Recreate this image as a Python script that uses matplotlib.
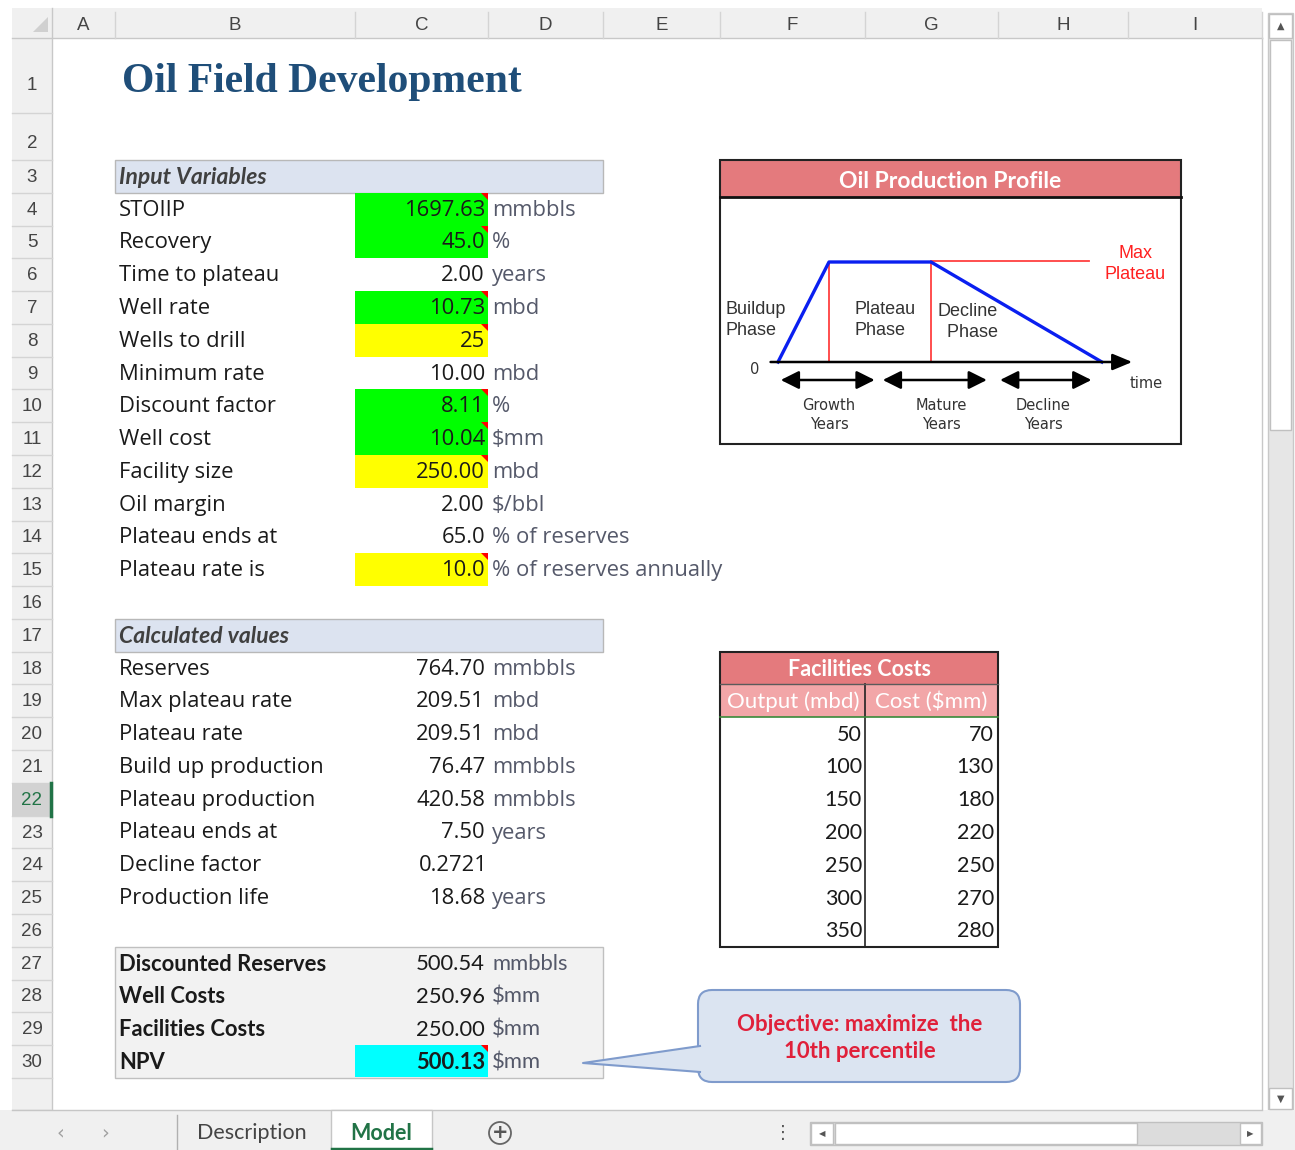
import matplotlib
matplotlib.use("Agg")
import matplotlib.pyplot as plt
from matplotlib.patches import Rectangle, Polygon, FancyBboxPatch

# ---- sheet content ----
title = "Oil Field Development"

input_labels = ["STOIIP", "Recovery", "Time to plateau", "Well rate", "Wells to drill",
                "Minimum rate", "Discount factor", "Well cost", "Facility size",
                "Oil margin", "Plateau ends at", "Plateau rate is"]
input_values = ["1697.63", "45.0", "2.00", "10.73", "25", "10.00", "8.11", "10.04",
                "250.00", "2.00", "65.0", "10.0"]
input_units = ["mmbbls", "%", "years", "mbd", "", "mbd", "%", "$mm", "mbd", "$/bbl",
               "% of reserves", "% of reserves annually"]
input_fill = ["#00ff00", "#00ff00", None, "#00ff00", "#ffff00", None, "#00ff00",
              "#00ff00", "#ffff00", None, None, "#ffff00"]

calc_labels = ["Reserves", "Max plateau rate", "Plateau rate", "Build up production",
               "Plateau production", "Plateau ends at", "Decline factor", "Production life"]
calc_values = ["764.70", "209.51", "209.51", "76.47", "420.58", "7.50", "0.2721", "18.68"]
calc_units = ["mmbbls", "mbd", "mbd", "mmbbls", "mmbbls", "years", "", "years"]

summary_labels = ["Discounted Reserves", "Well Costs", "Facilities Costs", "NPV"]
summary_values = ["500.54", "250.96", "250.00", "500.13"]
summary_units = ["mmbbls", "$mm", "$mm", "$mm"]

fac_output = [50, 100, 150, 200, 250, 300, 350]
fac_cost = [70, 130, 180, 220, 250, 270, 280]

# production profile sketch (time units, rate relative to plateau)
profile_t = [0, 1, 3, 6.35]
profile_q = [0, 1, 1, 0]

col_names = ["A", "B", "C", "D", "E", "F", "G", "H", "I"]
col_edges = [52, 115, 355, 488, 603, 720, 865, 998, 1128, 1262]

W, H = 1295, 1150
fig = plt.figure(figsize=(W / 100, H / 100), dpi=100)
ax = fig.add_axes([0, 0, 1, 1])
ax.set_xlim(0, W)
ax.set_ylim(H, 0)
ax.axis("off")

CELL = "Open Sans"
CAL = "Lato"
GRID = "#d4d4d4"
HDR = "#f0f0f0"
FS = 15.8   # body cells
FSC = 15.8  # calibri-like cells
UNIT = "#55596a"


def row_top(n):
    if n == 1:
        return 38
    if n == 2:
        return 113
    return 160 + (n - 3) * 32.78


def row_mid(n):
    if n == 1:
        return 80
    return row_top(n) + 16.4


def rect(x0, y0, x1, y1, fc="none", ec="none", lw=1, z=1):
    ax.add_patch(Rectangle((x0, y0), x1 - x0, y1 - y0, facecolor=fc, edgecolor=ec,
                           linewidth=lw, zorder=z))


def corner_mark(x1, y0):
    ax.add_patch(Polygon([(x1 - 7, y0), (x1, y0), (x1, y0 + 7)], closed=True,
                         facecolor="red", edgecolor="none", zorder=5))


# ---- headers ----
rect(12, 8, 1262, 38, fc=HDR)
rect(12, 38, 52, 1110, fc=HDR)
ax.plot([12, 1262], [38, 38], color="#c8c8c8", lw=1, zorder=2)
ax.plot([52, 52], [8, 1110], color="#c8c8c8", lw=1, zorder=2)
ax.plot([1262, 1262], [38, 1110], color="#c8c8c8", lw=1, zorder=2)
ax.add_patch(Polygon([(33, 32), (48, 32), (48, 17)], closed=True, facecolor="#d0d0d0",
                     edgecolor="none", zorder=3))
for i, name in enumerate(col_names):
    ax.plot([col_edges[i + 1]] * 2, [12, 38], color=GRID, lw=1, zorder=2)
    ax.text((col_edges[i] + col_edges[i + 1]) / 2, 25, name, ha="center", va="center",
            fontsize=13.5, color="#444444", family="Liberation Sans")
for n in range(1, 32):
    ax.plot([12, 52], [row_top(n + 1)] * 2 if n < 31 else [1110, 1110], color=GRID,
            lw=1, zorder=2)
    if n == 22:
        rect(12, row_top(22), 52, row_top(23), fc="#d2d2d2", z=2)
        ax.plot([51, 51], [row_top(22), row_top(23)], color="#217346", lw=2.5, zorder=3)
    if n <= 30:
        yy = {1: 85, 2: 144}.get(n, row_mid(n) + 1)
        ax.text(32, yy, str(n), ha="center", va="center",
                fontsize=13.5, color="#217346" if n == 22 else "#444444",
                family="Liberation Sans", zorder=4)

# ---- title ----
ax.text(122, 82, title, ha="left", va="center", fontsize=30, fontweight="bold",
        color="#1f4e79", family="Liberation Serif")

# ---- section headers ----
for n, txt in [(3, "Input Variables"), (17, "Calculated values")]:
    rect(115, row_top(n), 603, row_top(n + 1), fc="#dce3f0", ec="#b8b8b8", lw=1)
    ax.text(119, row_mid(n) + 1, txt, ha="left", va="center", fontsize=16.5,
            fontweight="bold", fontstyle="italic", color="#404040", family=CAL)

# ---- input table ----
for i, lab in enumerate(input_labels):
    n = 4 + i
    y = row_mid(n) + 1
    if input_fill[i]:
        rect(355, row_top(n), 488, row_top(n + 1), fc=input_fill[i])
        corner_mark(488, row_top(n))
    ax.text(119, y, lab, ha="left", va="center", fontsize=FS, color="#1a1a1a", family=CELL)
    ax.text(485, y, input_values[i], ha="right", va="center", fontsize=FS,
            color="#1a1a1a", family=CELL)
    ax.text(492, y, input_units[i], ha="left", va="center", fontsize=FS,
            color=UNIT, family=CELL)

# ---- calculated values ----
for i, lab in enumerate(calc_labels):
    n = 18 + i
    y = row_mid(n) + 1
    ax.text(119, y, lab, ha="left", va="center", fontsize=FS, color="#1a1a1a", family=CELL)
    if calc_values[i].startswith("0."):
        ax.text(419, y, calc_values[i], ha="left", va="center", fontsize=FS,
                color="#1a1a1a", family=CELL)
    else:
        ax.text(485, y, calc_values[i], ha="right", va="center", fontsize=FS,
                color="#1a1a1a", family=CELL)
    ax.text(492, y, calc_units[i], ha="left", va="center", fontsize=FS,
            color=UNIT, family=CELL)

# ---- summary block ----
rect(115, row_top(27), 603, row_top(31), fc="#f2f2f2", ec="#c0c0c0", lw=1)
for i, lab in enumerate(summary_labels):
    n = 27 + i
    y = row_mid(n) + 1
    if lab == "NPV":
        rect(355, row_top(n), 488, row_top(n + 1) - 1, fc="#00ffff", z=2)
        corner_mark(488, row_top(n))
    ax.text(119, y, lab, ha="left", va="center", fontsize=FSC, fontweight="bold",
            color="#1a1a1a", family=CAL, zorder=4)
    ax.text(485, y, summary_values[i], ha="right", va="center", fontsize=FSC,
            fontweight="bold" if lab == "NPV" else "normal", color="#1a1a1a",
            family=CAL, zorder=4)
    ax.text(492, y, summary_units[i], ha="left", va="center", fontsize=FSC,
            color=UNIT, family=CAL, zorder=4)

# ---- facilities table ----
ft, fb = row_top(18), row_top(27)
rect(720, ft, 998, row_top(19), fc="#e47a7d", z=2)
rect(720, row_top(19), 998, row_top(20), fc="#f2a6a8", z=2)
rect(720, ft, 998, fb, ec="#222222", lw=1.5, z=4)
ax.plot([865, 865], [row_top(19), fb], color="#222222", lw=1.2, zorder=4)
ax.plot([720, 998], [row_top(20), row_top(20)], color="#3a8a3a", lw=1.2, zorder=4)
ax.plot([720, 998], [row_top(19), row_top(19)], color="#5a5a5a", lw=1, zorder=4)
ax.text(859, row_mid(18) + 1, "Facilities Costs", ha="center", va="center", fontsize=15.5,
        fontweight="bold", color="white", family=CAL, zorder=5)
ax.text(793, row_mid(19) + 1, "Output (mbd)", ha="center", va="center", fontsize=16,
        color="white", family=CAL, zorder=5)
ax.text(931, row_mid(19) + 1, "Cost ($mm)", ha="center", va="center", fontsize=16,
        color="white", family=CAL, zorder=5)
for i in range(len(fac_output)):
    y = row_mid(20 + i) + 1
    ax.text(862, y, str(fac_output[i]), ha="right", va="center", fontsize=15.5,
            color="#1a1a1a", family=CAL, zorder=5)
    ax.text(994, y, str(fac_cost[i]), ha="right", va="center", fontsize=15.5,
            color="#1a1a1a", family=CAL, zorder=5)

# ---- oil production profile picture ----
rect(720, 160, 1181, 197, fc="#e47a7d", z=2)
rect(720, 160, 1181, 444, ec="#222222", lw=1.5, z=4)
ax.plot([720, 1181], [197, 197], color="#111111", lw=2, zorder=4)
ax.text(950, 181, "Oil Production Profile", ha="center", va="center", fontsize=16.5,
        fontweight="bold", color="white", family=CAL, zorder=5)

# inset axes: 51 px per time unit, 100 px per plateau unit, origin at (778, 362)
px0, py0, sx, sy = 778, 362, 51.0, 100.0
x_l, x_r = (722 - px0) / sx, (1179 - px0) / sx
y_t, y_b = (py0 - 199) / sy, (py0 - 442) / sy
dax = fig.add_axes([722 / W, 1 - 442 / H, (1179 - 722) / W, (442 - 199) / H])
dax.set_xlim(x_l, x_r)
dax.set_ylim(y_b, y_t)
dax.axis("off")
dax.plot(profile_t, profile_q, color="#0a1ff0", lw=2.4, zorder=3)
for t in profile_t[1:3]:
    dax.plot([t, t], [0, 1], color="#ff4040", lw=1.3, zorder=2)
dax.plot([profile_t[2], 6.1], [1.01, 1.01], color="#ff4040", lw=1.3, zorder=2)
dax.annotate("", xy=(7.0, 0), xytext=(-0.2, 0),
             arrowprops=dict(arrowstyle="-|>,head_length=1.2,head_width=0.5",
                             color="black", lw=1.8))
for a, b in [(0.0, 1.95), (2.0, 4.15), (4.3, 6.2)]:
    dax.annotate("", xy=(b, -0.18), xytext=(a, -0.18),
                 arrowprops=dict(arrowstyle="<|-|>,head_length=1.1,head_width=0.55",
                                 color="black", lw=1.8))
dfont = dict(family="Liberation Sans", color="#333333")
vfont = dict(family="DejaVu Sans", color="#333333")
dax.text(-0.45, -0.07, "0", ha="center", va="center", fontsize=10.5, **vfont)
dax.text(7.22, -0.21, "time", ha="center", va="center", fontsize=10.5, **vfont)
dax.text(-1.02, 0.42, "Buildup\nPhase", ha="left", va="center", fontsize=13,
         linespacing=1.25, **dfont)
dax.text(1.5, 0.42, "Plateau\nPhase", ha="left", va="center", fontsize=13,
         linespacing=1.25, **dfont)
dax.text(3.12, 0.4, "Decline\n  Phase", ha="left", va="center", fontsize=13,
         linespacing=1.25, **dfont)
dax.text(7.0, 0.98, "Max\nPlateau", ha="center", va="center", fontsize=13,
         linespacing=1.25, family="Liberation Sans", color="#ff2020")
for xc, lab in [(1.0, "Growth\nYears"), (3.2, "Mature\nYears"), (5.2, "Decline\nYears")]:
    dax.text(xc, -0.53, lab, ha="center", va="center", fontsize=10.5,
             linespacing=1.35, **vfont)

# ---- callout ----
ax.add_patch(FancyBboxPatch((701, 993), 318, 89, boxstyle="round,pad=0,rounding_size=14",
                            facecolor="#c8cfda", edgecolor="none", zorder=5))
ax.add_patch(FancyBboxPatch((698, 990), 322, 92, boxstyle="round,pad=0,rounding_size=14",
                            facecolor="#dbe4f1", edgecolor="#7f9bcc", lw=1.5, zorder=6))
tail = [(700, 1046), (583, 1063), (700, 1072)]
ax.add_patch(Polygon([(703, 1046), (583, 1063), (703, 1072)], closed=True,
                     facecolor="#dbe4f1", edgecolor="none", zorder=7))
ax.plot([p[0] for p in tail], [p[1] for p in tail], color="#7f9bcc", lw=1.5, zorder=7)
ax.text(860, 1038, "Objective: maximize  the\n10th percentile", ha="center",
        va="center", fontsize=16, fontweight="bold", color="#e0203a", family=CAL,
        linespacing=1.3, zorder=8)

# ---- vertical scrollbar ----
rect(1268, 13, 1293, 1110, fc="#e6e6e6", ec="#c8c8c8", z=2)
rect(1270, 40, 1291, 430, fc="white", ec="#c0c0c0", z=3)
rect(1269, 14, 1292, 38, fc="white", ec="#c0c0c0", z=3)
rect(1269, 1088, 1292, 1109, fc="white", ec="#c0c0c0", z=3)
ax.text(1280.5, 26, "\u25b2", ha="center", va="center", fontsize=7, color="#555555", zorder=4)
ax.text(1280.5, 1099, "\u25bc", ha="center", va="center", fontsize=7, color="#555555", zorder=4)

# ---- sheet tabs ----
rect(0, 1110, 1295, 1150, fc=HDR, z=2)
ax.plot([12, 1262], [1110, 1110], color="#c6c6c6", lw=1, zorder=3)
ax.text(60, 1133, "\u2039", ha="center", va="center", fontsize=14, color="#a0a0a0", zorder=4)
ax.text(105, 1133, "\u203a", ha="center", va="center", fontsize=14, color="#a0a0a0", zorder=4)
ax.plot([177, 177], [1115, 1150], color="#b0b0b0", lw=1, zorder=3)
ax.text(252, 1133, "Description", ha="center", va="center", fontsize=15.5,
        color="#444444", family=CAL, zorder=4)
rect(331, 1110, 432, 1150, fc="white", ec="#c6c6c6", z=3)
ax.plot([332, 431], [1148.5, 1148.5], color="#217346", lw=2.5, zorder=4)
ax.text(381, 1133, "Model", ha="center", va="center", fontsize=15.5, fontweight="bold",
        color="#217346", family=CAL, zorder=4)
ax.add_patch(plt.Circle((500, 1133), 11, facecolor="none", edgecolor="#666666",
                        lw=1.3, zorder=4))
ax.text(500, 1133, "+", ha="center", va="center", fontsize=14, fontweight="bold",
        color="#555555", zorder=5)
ax.text(783, 1133, "\u22ee", ha="center", va="center", fontsize=13, color="#555555", zorder=4)
rect(810, 1122, 1262, 1145, fc="#dcdcdc", ec="#c0c0c0", z=3)
rect(835, 1123, 1137, 1144, fc="white", ec="#c0c0c0", z=4)
rect(811, 1123, 833, 1144, fc="white", ec="#c0c0c0", z=4)
rect(1240, 1123, 1261, 1144, fc="white", ec="#c0c0c0", z=4)
ax.text(822, 1133.5, "\u25c0", ha="center", va="center", fontsize=6, color="#555555", zorder=5)
ax.text(1250.5, 1133.5, "\u25b6", ha="center", va="center", fontsize=6, color="#555555", zorder=5)

fig.savefig("out.png", dpi=100)
